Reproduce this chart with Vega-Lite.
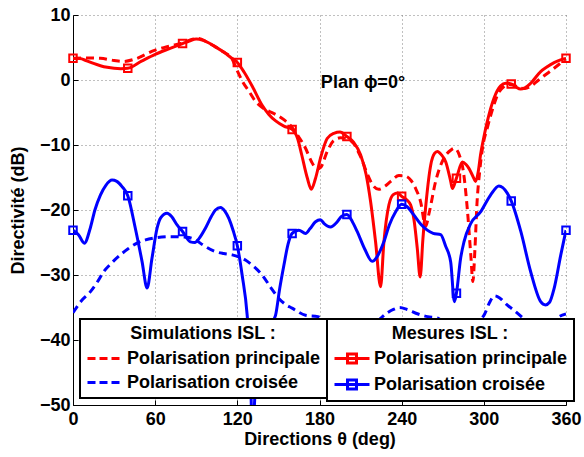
{
  "$schema": "https://vega.github.io/schema/vega-lite/v6.json",
  "width": 493,
  "height": 390,
  "autosize": {"type": "none"},
  "padding": {"left": 73, "top": 15, "right": 18, "bottom": 52},
  "background": "white",
  "config": {
    "view": {"stroke": null},
    "font": "Liberation Sans",
    "axis": {
      "domainColor": "black",
      "domainWidth": 1,
      "tickColor": "black",
      "tickSize": -5,
      "tickWidth": 1,
      "labelFont": "Liberation Sans",
      "labelFontSize": 18,
      "labelFontWeight": "bold",
      "labelColor": "black",
      "labelFlush": false,
      "titleFont": "Liberation Sans",
      "titleFontSize": 18,
      "titleFontWeight": "bold",
      "titleColor": "black",
      "gridColor": "#808080",
      "gridDash": [1, 3],
      "gridWidth": 1,
      "gridOpacity": 1
    },
    "legend": {
      "labelFont": "Liberation Sans",
      "labelFontSize": 18,
      "labelFontWeight": "bold",
      "labelColor": "black",
      "labelLimit": 400,
      "titleFont": "Liberation Sans",
      "titleFontSize": 18,
      "titleFontWeight": "bold",
      "titleColor": "black",
      "titleLimit": 400,
      "strokeWidth": 2
    }
  },
  "datasets": {
    "curves": [
      {"source": "sim", "series": "Polarisation principale", "theta": 0, "db": 3.3},
      {"source": "sim", "series": "Polarisation principale", "theta": 10, "db": 3.4},
      {"source": "sim", "series": "Polarisation principale", "theta": 20, "db": 3.35},
      {"source": "sim", "series": "Polarisation principale", "theta": 30, "db": 3.0},
      {"source": "sim", "series": "Polarisation principale", "theta": 37, "db": 2.85},
      {"source": "sim", "series": "Polarisation principale", "theta": 45, "db": 3.2},
      {"source": "sim", "series": "Polarisation principale", "theta": 60, "db": 4.6},
      {"source": "sim", "series": "Polarisation principale", "theta": 70, "db": 5.2},
      {"source": "sim", "series": "Polarisation principale", "theta": 80, "db": 5.7},
      {"source": "sim", "series": "Polarisation principale", "theta": 88, "db": 6.3},
      {"source": "sim", "series": "Polarisation principale", "theta": 92, "db": 6.4},
      {"source": "sim", "series": "Polarisation principale", "theta": 98, "db": 5.8},
      {"source": "sim", "series": "Polarisation principale", "theta": 104, "db": 5.1},
      {"source": "sim", "series": "Polarisation principale", "theta": 110, "db": 4.3},
      {"source": "sim", "series": "Polarisation principale", "theta": 116, "db": 3.3},
      {"source": "sim", "series": "Polarisation principale", "theta": 120, "db": 1.4},
      {"source": "sim", "series": "Polarisation principale", "theta": 124, "db": -0.3},
      {"source": "sim", "series": "Polarisation principale", "theta": 128.7, "db": -1.8},
      {"source": "sim", "series": "Polarisation principale", "theta": 133, "db": -3.2},
      {"source": "sim", "series": "Polarisation principale", "theta": 138, "db": -4.2},
      {"source": "sim", "series": "Polarisation principale", "theta": 143, "db": -4.8},
      {"source": "sim", "series": "Polarisation principale", "theta": 148, "db": -5.3},
      {"source": "sim", "series": "Polarisation principale", "theta": 154, "db": -6.1},
      {"source": "sim", "series": "Polarisation principale", "theta": 160, "db": -7.3},
      {"source": "sim", "series": "Polarisation principale", "theta": 165, "db": -8.8},
      {"source": "sim", "series": "Polarisation principale", "theta": 169.8, "db": -10.5},
      {"source": "sim", "series": "Polarisation principale", "theta": 174, "db": -12.5},
      {"source": "sim", "series": "Polarisation principale", "theta": 178.3, "db": -13.7},
      {"source": "sim", "series": "Polarisation principale", "theta": 181, "db": -13.4},
      {"source": "sim", "series": "Polarisation principale", "theta": 185.6, "db": -11.0},
      {"source": "sim", "series": "Polarisation principale", "theta": 190, "db": -9.4},
      {"source": "sim", "series": "Polarisation principale", "theta": 195.3, "db": -8.9},
      {"source": "sim", "series": "Polarisation principale", "theta": 200, "db": -9.0},
      {"source": "sim", "series": "Polarisation principale", "theta": 205, "db": -9.8},
      {"source": "sim", "series": "Polarisation principale", "theta": 210, "db": -11.8},
      {"source": "sim", "series": "Polarisation principale", "theta": 215, "db": -14.5},
      {"source": "sim", "series": "Polarisation principale", "theta": 219, "db": -16.2},
      {"source": "sim", "series": "Polarisation principale", "theta": 223.3, "db": -16.8},
      {"source": "sim", "series": "Polarisation principale", "theta": 228, "db": -16.3},
      {"source": "sim", "series": "Polarisation principale", "theta": 232, "db": -15.6},
      {"source": "sim", "series": "Polarisation principale", "theta": 238, "db": -14.7},
      {"source": "sim", "series": "Polarisation principale", "theta": 243, "db": -14.8},
      {"source": "sim", "series": "Polarisation principale", "theta": 247, "db": -15.5},
      {"source": "sim", "series": "Polarisation principale", "theta": 250, "db": -16.6},
      {"source": "sim", "series": "Polarisation principale", "theta": 253.8, "db": -18.7},
      {"source": "sim", "series": "Polarisation principale", "theta": 257.5, "db": -22.5},
      {"source": "sim", "series": "Polarisation principale", "theta": 260, "db": -20.5},
      {"source": "sim", "series": "Polarisation principale", "theta": 264.8, "db": -15.6},
      {"source": "sim", "series": "Polarisation principale", "theta": 270.9, "db": -12.0},
      {"source": "sim", "series": "Polarisation principale", "theta": 275.8, "db": -10.8},
      {"source": "sim", "series": "Polarisation principale", "theta": 278.5, "db": -10.5},
      {"source": "sim", "series": "Polarisation principale", "theta": 282, "db": -11.5},
      {"source": "sim", "series": "Polarisation principale", "theta": 285, "db": -14.0},
      {"source": "sim", "series": "Polarisation principale", "theta": 288, "db": -20.0},
      {"source": "sim", "series": "Polarisation principale", "theta": 290.5, "db": -27.0},
      {"source": "sim", "series": "Polarisation principale", "theta": 292, "db": -31.0},
      {"source": "sim", "series": "Polarisation principale", "theta": 293.5, "db": -26.0},
      {"source": "sim", "series": "Polarisation principale", "theta": 295, "db": -19.0},
      {"source": "sim", "series": "Polarisation principale", "theta": 297, "db": -14.0},
      {"source": "sim", "series": "Polarisation principale", "theta": 299, "db": -10.5},
      {"source": "sim", "series": "Polarisation principale", "theta": 302.5, "db": -7.4},
      {"source": "sim", "series": "Polarisation principale", "theta": 307.4, "db": -3.8},
      {"source": "sim", "series": "Polarisation principale", "theta": 310, "db": -2.3},
      {"source": "sim", "series": "Polarisation principale", "theta": 314.7, "db": -1.0},
      {"source": "sim", "series": "Polarisation principale", "theta": 318, "db": -0.7},
      {"source": "sim", "series": "Polarisation principale", "theta": 322, "db": -0.8},
      {"source": "sim", "series": "Polarisation principale", "theta": 326, "db": -1.2},
      {"source": "sim", "series": "Polarisation principale", "theta": 330, "db": -1.3},
      {"source": "sim", "series": "Polarisation principale", "theta": 334, "db": -1.0},
      {"source": "sim", "series": "Polarisation principale", "theta": 340, "db": 0.0},
      {"source": "sim", "series": "Polarisation principale", "theta": 345, "db": 0.8},
      {"source": "sim", "series": "Polarisation principale", "theta": 351.3, "db": 1.8},
      {"source": "sim", "series": "Polarisation principale", "theta": 356, "db": 2.6},
      {"source": "sim", "series": "Polarisation principale", "theta": 360, "db": 3.3},

      {"source": "sim", "series": "Polarisation croisée", "theta": 0, "db": -35.8},
      {"source": "sim", "series": "Polarisation croisée", "theta": 6, "db": -34.0},
      {"source": "sim", "series": "Polarisation croisée", "theta": 12.6, "db": -32.6},
      {"source": "sim", "series": "Polarisation croisée", "theta": 18, "db": -31.0},
      {"source": "sim", "series": "Polarisation croisée", "theta": 22.4, "db": -29.5},
      {"source": "sim", "series": "Polarisation croisée", "theta": 28, "db": -28.2},
      {"source": "sim", "series": "Polarisation croisée", "theta": 34.6, "db": -26.9},
      {"source": "sim", "series": "Polarisation croisée", "theta": 40, "db": -26.0},
      {"source": "sim", "series": "Polarisation croisée", "theta": 46.8, "db": -25.1},
      {"source": "sim", "series": "Polarisation croisée", "theta": 53, "db": -24.6},
      {"source": "sim", "series": "Polarisation croisée", "theta": 60, "db": -24.3},
      {"source": "sim", "series": "Polarisation croisée", "theta": 71, "db": -24.1},
      {"source": "sim", "series": "Polarisation croisée", "theta": 83, "db": -24.2},
      {"source": "sim", "series": "Polarisation croisée", "theta": 89.4, "db": -24.6},
      {"source": "sim", "series": "Polarisation croisée", "theta": 95, "db": -25.4},
      {"source": "sim", "series": "Polarisation croisée", "theta": 104, "db": -26.4},
      {"source": "sim", "series": "Polarisation croisée", "theta": 110, "db": -26.7},
      {"source": "sim", "series": "Polarisation croisée", "theta": 116.2, "db": -26.9},
      {"source": "sim", "series": "Polarisation croisée", "theta": 121, "db": -27.2},
      {"source": "sim", "series": "Polarisation croisée", "theta": 125.9, "db": -27.7},
      {"source": "sim", "series": "Polarisation croisée", "theta": 132, "db": -28.7},
      {"source": "sim", "series": "Polarisation croisée", "theta": 138.1, "db": -30.0},
      {"source": "sim", "series": "Polarisation croisée", "theta": 144, "db": -31.8},
      {"source": "sim", "series": "Polarisation croisée", "theta": 150.3, "db": -33.6},
      {"source": "sim", "series": "Polarisation croisée", "theta": 155, "db": -34.5},
      {"source": "sim", "series": "Polarisation croisée", "theta": 160, "db": -35.1},
      {"source": "sim", "series": "Polarisation croisée", "theta": 169.8, "db": -36.2},
      {"source": "sim", "series": "Polarisation croisée", "theta": 178.8, "db": -36.4},
      {"source": "sim", "series": "Polarisation croisée", "theta": 185, "db": -37.5},
      {"source": "sim", "series": "Polarisation croisée", "theta": 200, "db": -39.5},
      {"source": "sim", "series": "Polarisation croisée", "theta": 215, "db": -38.5},
      {"source": "sim", "series": "Polarisation croisée", "theta": 224, "db": -36.8},
      {"source": "sim", "series": "Polarisation croisée", "theta": 229, "db": -35.9},
      {"source": "sim", "series": "Polarisation croisée", "theta": 234, "db": -35.3},
      {"source": "sim", "series": "Polarisation croisée", "theta": 238.5, "db": -35.0},
      {"source": "sim", "series": "Polarisation croisée", "theta": 244, "db": -35.3},
      {"source": "sim", "series": "Polarisation croisée", "theta": 252, "db": -36.0},
      {"source": "sim", "series": "Polarisation croisée", "theta": 259, "db": -36.4},
      {"source": "sim", "series": "Polarisation croisée", "theta": 266, "db": -36.6},
      {"source": "sim", "series": "Polarisation croisée", "theta": 272, "db": -37.5},
      {"source": "sim", "series": "Polarisation croisée", "theta": 285, "db": -40.0},
      {"source": "sim", "series": "Polarisation croisée", "theta": 296, "db": -37.2},
      {"source": "sim", "series": "Polarisation croisée", "theta": 300.6, "db": -36.0},
      {"source": "sim", "series": "Polarisation croisée", "theta": 304, "db": -34.3},
      {"source": "sim", "series": "Polarisation croisée", "theta": 307.9, "db": -33.2},
      {"source": "sim", "series": "Polarisation croisée", "theta": 312, "db": -33.6},
      {"source": "sim", "series": "Polarisation croisée", "theta": 317, "db": -34.6},
      {"source": "sim", "series": "Polarisation croisée", "theta": 323, "db": -35.6},
      {"source": "sim", "series": "Polarisation croisée", "theta": 327.4, "db": -36.4},
      {"source": "sim", "series": "Polarisation croisée", "theta": 333, "db": -37.5},
      {"source": "sim", "series": "Polarisation croisée", "theta": 341, "db": -38.0},
      {"source": "sim", "series": "Polarisation croisée", "theta": 350, "db": -37.2},
      {"source": "sim", "series": "Polarisation croisée", "theta": 355, "db": -36.4},
      {"source": "sim", "series": "Polarisation croisée", "theta": 360, "db": -36.0},

      {"source": "mes", "series": "Polarisation principale", "theta": 0, "db": 3.33},
      {"source": "mes", "series": "Polarisation principale", "theta": 5, "db": 3.3},
      {"source": "mes", "series": "Polarisation principale", "theta": 10, "db": 2.95},
      {"source": "mes", "series": "Polarisation principale", "theta": 15, "db": 2.55},
      {"source": "mes", "series": "Polarisation principale", "theta": 20, "db": 2.2},
      {"source": "mes", "series": "Polarisation principale", "theta": 25, "db": 1.95},
      {"source": "mes", "series": "Polarisation principale", "theta": 30, "db": 1.8},
      {"source": "mes", "series": "Polarisation principale", "theta": 35, "db": 1.75},
      {"source": "mes", "series": "Polarisation principale", "theta": 40, "db": 1.8},
      {"source": "mes", "series": "Polarisation principale", "theta": 50, "db": 2.9},
      {"source": "mes", "series": "Polarisation principale", "theta": 60, "db": 3.95},
      {"source": "mes", "series": "Polarisation principale", "theta": 70, "db": 4.8},
      {"source": "mes", "series": "Polarisation principale", "theta": 80, "db": 5.6},
      {"source": "mes", "series": "Polarisation principale", "theta": 85, "db": 6.0},
      {"source": "mes", "series": "Polarisation principale", "theta": 90, "db": 6.3},
      {"source": "mes", "series": "Polarisation principale", "theta": 95, "db": 6.1},
      {"source": "mes", "series": "Polarisation principale", "theta": 104, "db": 5.1},
      {"source": "mes", "series": "Polarisation principale", "theta": 110, "db": 4.3},
      {"source": "mes", "series": "Polarisation principale", "theta": 115, "db": 3.5},
      {"source": "mes", "series": "Polarisation principale", "theta": 120, "db": 2.7},
      {"source": "mes", "series": "Polarisation principale", "theta": 125, "db": 1.2},
      {"source": "mes", "series": "Polarisation principale", "theta": 131, "db": -1.0},
      {"source": "mes", "series": "Polarisation principale", "theta": 138, "db": -3.85},
      {"source": "mes", "series": "Polarisation principale", "theta": 143, "db": -5.3},
      {"source": "mes", "series": "Polarisation principale", "theta": 148, "db": -6.3},
      {"source": "mes", "series": "Polarisation principale", "theta": 154, "db": -7.1},
      {"source": "mes", "series": "Polarisation principale", "theta": 160, "db": -7.6},
      {"source": "mes", "series": "Polarisation principale", "theta": 164, "db": -9.0},
      {"source": "mes", "series": "Polarisation principale", "theta": 167, "db": -11.5},
      {"source": "mes", "series": "Polarisation principale", "theta": 171, "db": -15.0},
      {"source": "mes", "series": "Polarisation principale", "theta": 174, "db": -16.8},
      {"source": "mes", "series": "Polarisation principale", "theta": 177, "db": -15.2},
      {"source": "mes", "series": "Polarisation principale", "theta": 181, "db": -11.8},
      {"source": "mes", "series": "Polarisation principale", "theta": 185.6, "db": -9.0},
      {"source": "mes", "series": "Polarisation principale", "theta": 190.5, "db": -8.2},
      {"source": "mes", "series": "Polarisation principale", "theta": 195, "db": -8.0},
      {"source": "mes", "series": "Polarisation principale", "theta": 200, "db": -8.7},
      {"source": "mes", "series": "Polarisation principale", "theta": 205, "db": -9.6},
      {"source": "mes", "series": "Polarisation principale", "theta": 210, "db": -11.5},
      {"source": "mes", "series": "Polarisation principale", "theta": 214, "db": -14.5},
      {"source": "mes", "series": "Polarisation principale", "theta": 217.3, "db": -18.7},
      {"source": "mes", "series": "Polarisation principale", "theta": 221, "db": -25.0},
      {"source": "mes", "series": "Polarisation principale", "theta": 224.6, "db": -31.8},
      {"source": "mes", "series": "Polarisation principale", "theta": 227, "db": -25.0},
      {"source": "mes", "series": "Polarisation principale", "theta": 230.7, "db": -19.2},
      {"source": "mes", "series": "Polarisation principale", "theta": 234, "db": -17.6},
      {"source": "mes", "series": "Polarisation principale", "theta": 237, "db": -17.4},
      {"source": "mes", "series": "Polarisation principale", "theta": 240, "db": -17.9},
      {"source": "mes", "series": "Polarisation principale", "theta": 244, "db": -18.5},
      {"source": "mes", "series": "Polarisation principale", "theta": 246.5, "db": -19.2},
      {"source": "mes", "series": "Polarisation principale", "theta": 249, "db": -21.5},
      {"source": "mes", "series": "Polarisation principale", "theta": 251.4, "db": -25.9},
      {"source": "mes", "series": "Polarisation principale", "theta": 253.5, "db": -30.3},
      {"source": "mes", "series": "Polarisation principale", "theta": 255.5, "db": -24.5},
      {"source": "mes", "series": "Polarisation principale", "theta": 258, "db": -18.5},
      {"source": "mes", "series": "Polarisation principale", "theta": 261.2, "db": -13.1},
      {"source": "mes", "series": "Polarisation principale", "theta": 264, "db": -11.3},
      {"source": "mes", "series": "Polarisation principale", "theta": 266.1, "db": -11.0},
      {"source": "mes", "series": "Polarisation principale", "theta": 269, "db": -11.5},
      {"source": "mes", "series": "Polarisation principale", "theta": 272.2, "db": -12.6},
      {"source": "mes", "series": "Polarisation principale", "theta": 275.8, "db": -15.6},
      {"source": "mes", "series": "Polarisation principale", "theta": 277, "db": -16.7},
      {"source": "mes", "series": "Polarisation principale", "theta": 280, "db": -15.1},
      {"source": "mes", "series": "Polarisation principale", "theta": 284.3, "db": -12.6},
      {"source": "mes", "series": "Polarisation principale", "theta": 287, "db": -13.0},
      {"source": "mes", "series": "Polarisation principale", "theta": 289.1, "db": -13.6},
      {"source": "mes", "series": "Polarisation principale", "theta": 292, "db": -14.8},
      {"source": "mes", "series": "Polarisation principale", "theta": 294, "db": -15.6},
      {"source": "mes", "series": "Polarisation principale", "theta": 296, "db": -14.0},
      {"source": "mes", "series": "Polarisation principale", "theta": 297.6, "db": -11.5},
      {"source": "mes", "series": "Polarisation principale", "theta": 300, "db": -8.8},
      {"source": "mes", "series": "Polarisation principale", "theta": 302.5, "db": -6.4},
      {"source": "mes", "series": "Polarisation principale", "theta": 307.4, "db": -2.8},
      {"source": "mes", "series": "Polarisation principale", "theta": 312.3, "db": -0.9},
      {"source": "mes", "series": "Polarisation principale", "theta": 316, "db": -0.5},
      {"source": "mes", "series": "Polarisation principale", "theta": 320, "db": -0.6},
      {"source": "mes", "series": "Polarisation principale", "theta": 323, "db": -1.0},
      {"source": "mes", "series": "Polarisation principale", "theta": 326.9, "db": -1.4},
      {"source": "mes", "series": "Polarisation principale", "theta": 330, "db": -1.2},
      {"source": "mes", "series": "Polarisation principale", "theta": 334.2, "db": -0.5},
      {"source": "mes", "series": "Polarisation principale", "theta": 341.5, "db": 1.3},
      {"source": "mes", "series": "Polarisation principale", "theta": 346, "db": 2.0},
      {"source": "mes", "series": "Polarisation principale", "theta": 351.3, "db": 2.67},
      {"source": "mes", "series": "Polarisation principale", "theta": 356, "db": 3.1},
      {"source": "mes", "series": "Polarisation principale", "theta": 360, "db": 3.33},

      {"source": "mes", "series": "Polarisation croisée", "theta": 0, "db": -23.1},
      {"source": "mes", "series": "Polarisation croisée", "theta": 4, "db": -23.8},
      {"source": "mes", "series": "Polarisation croisée", "theta": 8.3, "db": -25.1},
      {"source": "mes", "series": "Polarisation croisée", "theta": 12.6, "db": -22.8},
      {"source": "mes", "series": "Polarisation croisée", "theta": 16, "db": -20.0},
      {"source": "mes", "series": "Polarisation croisée", "theta": 20, "db": -17.7},
      {"source": "mes", "series": "Polarisation croisée", "theta": 24, "db": -16.2},
      {"source": "mes", "series": "Polarisation croisée", "theta": 28.5, "db": -15.4},
      {"source": "mes", "series": "Polarisation croisée", "theta": 32, "db": -15.6},
      {"source": "mes", "series": "Polarisation croisée", "theta": 35.8, "db": -16.4},
      {"source": "mes", "series": "Polarisation croisée", "theta": 40, "db": -17.8},
      {"source": "mes", "series": "Polarisation croisée", "theta": 45.5, "db": -22.8},
      {"source": "mes", "series": "Polarisation croisée", "theta": 50.4, "db": -27.9},
      {"source": "mes", "series": "Polarisation croisée", "theta": 54.1, "db": -32.0},
      {"source": "mes", "series": "Polarisation croisée", "theta": 57.7, "db": -27.4},
      {"source": "mes", "series": "Polarisation croisée", "theta": 61.4, "db": -22.8},
      {"source": "mes", "series": "Polarisation croisée", "theta": 64, "db": -21.2},
      {"source": "mes", "series": "Polarisation croisée", "theta": 68.7, "db": -20.5},
      {"source": "mes", "series": "Polarisation croisée", "theta": 72, "db": -21.0},
      {"source": "mes", "series": "Polarisation croisée", "theta": 76, "db": -22.3},
      {"source": "mes", "series": "Polarisation croisée", "theta": 80, "db": -23.3},
      {"source": "mes", "series": "Polarisation croisée", "theta": 85.7, "db": -24.9},
      {"source": "mes", "series": "Polarisation croisée", "theta": 89, "db": -25.0},
      {"source": "mes", "series": "Polarisation croisée", "theta": 92, "db": -24.4},
      {"source": "mes", "series": "Polarisation croisée", "theta": 96.7, "db": -22.8},
      {"source": "mes", "series": "Polarisation croisée", "theta": 101, "db": -21.0},
      {"source": "mes", "series": "Polarisation croisée", "theta": 104, "db": -20.0},
      {"source": "mes", "series": "Polarisation croisée", "theta": 107.7, "db": -19.6},
      {"source": "mes", "series": "Polarisation croisée", "theta": 111, "db": -20.2},
      {"source": "mes", "series": "Polarisation croisée", "theta": 113.8, "db": -21.3},
      {"source": "mes", "series": "Polarisation croisée", "theta": 117, "db": -23.2},
      {"source": "mes", "series": "Polarisation croisée", "theta": 120, "db": -25.5},
      {"source": "mes", "series": "Polarisation croisée", "theta": 123.5, "db": -30.0},
      {"source": "mes", "series": "Polarisation croisée", "theta": 127.2, "db": -36.2},
      {"source": "mes", "series": "Polarisation croisée", "theta": 129.5, "db": -44.0},
      {"source": "mes", "series": "Polarisation croisée", "theta": 131, "db": -55.0},
      {"source": "mes", "series": "Polarisation croisée", "theta": 133, "db": -48.0},
      {"source": "mes", "series": "Polarisation croisée", "theta": 137, "db": -42.0},
      {"source": "mes", "series": "Polarisation croisée", "theta": 142, "db": -38.5},
      {"source": "mes", "series": "Polarisation croisée", "theta": 147.9, "db": -36.2},
      {"source": "mes", "series": "Polarisation croisée", "theta": 151, "db": -32.0},
      {"source": "mes", "series": "Polarisation croisée", "theta": 154, "db": -28.5},
      {"source": "mes", "series": "Polarisation croisée", "theta": 157, "db": -25.3},
      {"source": "mes", "series": "Polarisation croisée", "theta": 160, "db": -23.6},
      {"source": "mes", "series": "Polarisation croisée", "theta": 164.9, "db": -23.1},
      {"source": "mes", "series": "Polarisation croisée", "theta": 169.8, "db": -23.6},
      {"source": "mes", "series": "Polarisation croisée", "theta": 173, "db": -22.9},
      {"source": "mes", "series": "Polarisation croisée", "theta": 177.1, "db": -21.8},
      {"source": "mes", "series": "Polarisation croisée", "theta": 180.7, "db": -21.5},
      {"source": "mes", "series": "Polarisation croisée", "theta": 183.2, "db": -22.05},
      {"source": "mes", "series": "Polarisation croisée", "theta": 188, "db": -22.6},
      {"source": "mes", "series": "Polarisation croisée", "theta": 193, "db": -21.8},
      {"source": "mes", "series": "Polarisation croisée", "theta": 196, "db": -21.0},
      {"source": "mes", "series": "Polarisation croisée", "theta": 200, "db": -20.7},
      {"source": "mes", "series": "Polarisation croisée", "theta": 204, "db": -21.8},
      {"source": "mes", "series": "Polarisation croisée", "theta": 207.5, "db": -23.3},
      {"source": "mes", "series": "Polarisation croisée", "theta": 213, "db": -26.0},
      {"source": "mes", "series": "Polarisation croisée", "theta": 218.5, "db": -27.9},
      {"source": "mes", "series": "Polarisation croisée", "theta": 222, "db": -27.2},
      {"source": "mes", "series": "Polarisation croisée", "theta": 227, "db": -24.9},
      {"source": "mes", "series": "Polarisation croisée", "theta": 231, "db": -22.3},
      {"source": "mes", "series": "Polarisation croisée", "theta": 235.5, "db": -20.3},
      {"source": "mes", "series": "Polarisation croisée", "theta": 240, "db": -19.1},
      {"source": "mes", "series": "Polarisation croisée", "theta": 244, "db": -19.5},
      {"source": "mes", "series": "Polarisation croisée", "theta": 249, "db": -20.8},
      {"source": "mes", "series": "Polarisation croisée", "theta": 254, "db": -22.2},
      {"source": "mes", "series": "Polarisation croisée", "theta": 258.7, "db": -23.1},
      {"source": "mes", "series": "Polarisation croisée", "theta": 263, "db": -23.6},
      {"source": "mes", "series": "Polarisation croisée", "theta": 268.5, "db": -23.8},
      {"source": "mes", "series": "Polarisation croisée", "theta": 272, "db": -25.5},
      {"source": "mes", "series": "Polarisation croisée", "theta": 275.8, "db": -28.0},
      {"source": "mes", "series": "Polarisation croisée", "theta": 278.5, "db": -34.1},
      {"source": "mes", "series": "Polarisation croisée", "theta": 280, "db": -32.8},
      {"source": "mes", "series": "Polarisation croisée", "theta": 283, "db": -27.5},
      {"source": "mes", "series": "Polarisation croisée", "theta": 285.5, "db": -24.9},
      {"source": "mes", "series": "Polarisation croisée", "theta": 290.4, "db": -22.1},
      {"source": "mes", "series": "Polarisation croisée", "theta": 297.6, "db": -20.3},
      {"source": "mes", "series": "Polarisation croisée", "theta": 304.9, "db": -17.7},
      {"source": "mes", "series": "Polarisation croisée", "theta": 311, "db": -16.3},
      {"source": "mes", "series": "Polarisation croisée", "theta": 317.1, "db": -17.4},
      {"source": "mes", "series": "Polarisation croisée", "theta": 320, "db": -18.6},
      {"source": "mes", "series": "Polarisation croisée", "theta": 327, "db": -23.3},
      {"source": "mes", "series": "Polarisation croisée", "theta": 334.2, "db": -29.5},
      {"source": "mes", "series": "Polarisation croisée", "theta": 341.5, "db": -34.1},
      {"source": "mes", "series": "Polarisation croisée", "theta": 345, "db": -34.6},
      {"source": "mes", "series": "Polarisation croisée", "theta": 348, "db": -34.2},
      {"source": "mes", "series": "Polarisation croisée", "theta": 351.3, "db": -32.1},
      {"source": "mes", "series": "Polarisation croisée", "theta": 356.2, "db": -26.9},
      {"source": "mes", "series": "Polarisation croisée", "theta": 360, "db": -23.1}
    ]
  },
  "data": {"name": "curves"},
  "layer": [
    {
      "transform": [{"filter": "datum.source === 'sim'"}],
      "mark": {"type": "line", "strokeWidth": 3, "strokeDash": [8, 5], "interpolate": "monotone", "clip": true},
      "encoding": {
        "x": {"field": "theta", "type": "quantitative", "scale": {"domain": [0, 360], "nice": false},
              "axis": {"values": [0, 60, 120, 180, 240, 300, 360], "grid": true, "title": "Directions θ (deg)", "labelPadding": 10, "titlePadding": 2}},
        "y": {"field": "db", "type": "quantitative", "scale": {"domain": [-50, 10], "nice": false},
              "axis": {"values": [-50, -40, -30, -20, -10, 0, 10], "grid": true, "title": "Directivité (dB)", "labelPadding": 8, "titlePadding": 12}},
        "color": {"field": "series", "type": "nominal",
                  "scale": {"domain": ["Polarisation principale", "Polarisation croisée"], "range": ["#ff0000", "#0000ff"]},
                  "legend": {"title": "Simulations ISL :", "orient": "bottom-left", "offset": 7,
                             "symbolType": "M-1,0H3.375", "symbolSize": 256, "symbolStrokeWidth": 3, "symbolDash": [8, 4],
                             "symbolFillColor": "transparent", "labelOffset": 22, "padding": 6, "titlePadding": 6, "rowPadding": 5,
                             "titleAnchor": "middle", "strokeColor": "black", "fillColor": "white", "cornerRadius": 0}},
        "detail": {"field": "series"}
      }
    },
    {
      "transform": [{"filter": "datum.source === 'mes'"}],
      "mark": {"type": "line", "strokeWidth": 3, "interpolate": "monotone", "clip": true},
      "encoding": {
        "x": {"field": "theta", "type": "quantitative"},
        "y": {"field": "db", "type": "quantitative"},
        "stroke": {"field": "series", "type": "nominal",
                   "scale": {"domain": ["Polarisation principale", "Polarisation croisée"], "range": ["#ff0000", "#0000ff"]},
                   "legend": {"title": "Mesures ISL :", "orient": "none", "legendX": 254, "legendY": 304,
                              "symbolType": "M-1,0H3.375M0.625,-0.5625H1.75V0.5625H0.625Z", "symbolSize": 256, "symbolStrokeWidth": 3,
                              "symbolFillColor": "transparent", "labelOffset": 22, "padding": 6, "titlePadding": 6, "rowPadding": 5,
                              "titleAnchor": "middle", "strokeColor": "black", "fillColor": "white", "cornerRadius": 0}}
      }
    },
    {
      "transform": [{"filter": "datum.source === 'mes' && datum.theta % 40 === 0"}],
      "mark": {"type": "point", "shape": "square", "filled": false, "size": 56, "strokeWidth": 2, "opacity": 1},
      "encoding": {
        "x": {"field": "theta", "type": "quantitative"},
        "y": {"field": "db", "type": "quantitative"},
        "stroke": {"field": "series", "type": "nominal"}
      }
    },
    {
      "data": {"values": [{"label": "Plan ϕ=0°"}]},
      "mark": {"type": "text", "align": "left", "baseline": "alphabetic", "font": "Liberation Sans", "fontSize": 18, "fontWeight": "bold", "color": "black"},
      "encoding": {
        "x": {"datum": 181},
        "y": {"datum": -1.3},
        "text": {"field": "label"}
      }
    }
  ]
}
